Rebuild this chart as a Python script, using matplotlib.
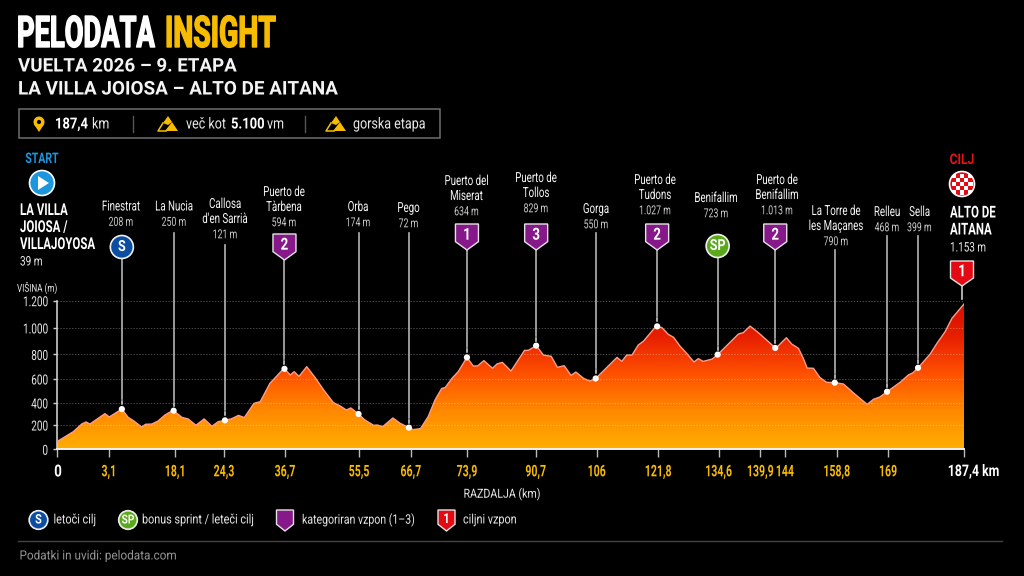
import numpy as np
import matplotlib
matplotlib.use('Agg')
import matplotlib.pyplot as plt
import matplotlib.patheffects as pe
from matplotlib.colors import LinearSegmentedColormap
from matplotlib.patches import Circle, Polygon, Rectangle
from matplotlib.transforms import Affine2D, Bbox

plt.rcParams['font.family'] = ['Roboto', 'DejaVu Sans']

# profile (position along the drawn axis, height on a 0-1200 axis)
dist = [0, 3.4, 5.1, 6.0, 6.8, 8.2, 9.9, 10.8, 13.4, 14.7, 15.8, 17.5, 18.3, 19.6, 20.9, 22.3, 24.0, 25.8,
        27.1, 28.7, 30.4, 32.0, 33.3, 34.7, 36.1, 37.5, 38.7, 40.7, 42.0, 44.0, 46.9, 48.2, 49.0, 50.0,
        51.6, 53.3, 55.1, 57.1, 58.5, 59.8, 60.7, 62.3, 63.6, 65.4, 66.2, 67.3, 69.4, 70.9, 72.7, 73.6,
        75.1, 76.7, 78.1, 79.5, 80.2, 81.6, 82.9, 84.7, 86.0, 86.9, 88.2, 90.0, 90.9, 92.0, 93.8, 96.6,
        97.4, 99.0, 100.5, 102.1, 103.4, 104.8, 106.2, 107.2, 108.8, 110.1, 111.2, 115.7, 116.7, 117.7,
        118.8, 120.1, 121.2, 123.8, 125.0, 126.3, 127.4, 128.7, 130.1, 131.6, 132.5, 133.5, 135.4, 136.4,
        140.8, 141.8, 143.2, 144.9, 147.0, 148.5, 150.7, 151.8, 153.2, 154.2, 155.0, 156.3, 157.6, 159.0,
        160.8, 162.5, 164.9, 167.4, 168.7, 170.0, 171.6, 174.2, 175.9, 176.9, 178.0, 180.4, 181.8, 183.5,
        184.9, 187.4]
height = [62, 143, 204, 221, 204, 242, 288, 261, 325, 258, 231, 180, 202, 204, 229, 277, 315, 258,
          245, 194, 245, 186, 223, 234, 247, 274, 256, 371, 385, 533, 654, 600, 627, 589,
          667, 581, 479, 377, 350, 317, 334, 285, 237, 194, 196, 183, 253, 210, 175, 159,
          167, 264, 398, 492, 498, 573, 627, 742, 673, 673, 716, 654, 689, 702, 632, 799,
          799, 837, 761, 751, 662, 675, 597, 624, 573, 551, 568, 742, 710, 761,
          761, 842, 874, 995, 982, 928, 904, 834, 775, 705, 732, 710, 729, 761,
          931, 942, 995, 942, 869, 815, 901, 850, 815, 734, 656, 654, 581, 541,
          538, 527, 444, 363, 404, 422, 468, 541, 600, 619, 662, 769, 855, 950,
          1057, 1173]

y_tick_pos = [0, 196, 374, 568, 766, 980, 1200]
y_tick_labels = ['0', '200', '400', '600', '800', '1.000', '1.200']
x_tick_pos = [0, 10.7, 24.4, 34.5, 47.1, 62.4, 73.1, 84.7, 98.9, 111.5, 124.2, 136.7, 145.3, 150.4, 161.1, 171.7, 187.4]
x_tick_labels = ['', '3,1', '18,1', '24,3', '36,7', '55,5', '66,7', '73,9', '90,7', '106', '121,8',
                 '134,6', '139,9', '144', '158,8', '169', '']

place_names = ['Finestrat', 'La Nucia', "Callosa\nd'en Sarrià", 'Puerto de\nTàrbena', 'Orba', 'Pego',
               'Puerto del\nMiserat', 'Puerto de\nTollos', 'Gorga', 'Puerto de\nTudons', 'Benifallim',
               'Puerto de\nBenifallim', 'La Torre de\nles Maçanes', 'Relleu', 'Sella']
place_alts = ['208 m', '250 m', '121 m', '594 m', '174 m', '72 m', '634 m', '829 m', '550 m',
              '1.027 m', '723 m', '1.013 m', '790 m', '468 m', '399 m']
place_dist = [13.4, 24.1, 34.7, 47.0, 62.3, 72.7, 84.7, 99.0, 111.3, 124.0, 136.5, 148.4, 160.7, 171.5, 177.9]
place_badge = ['S', '', '', '2', '', '', '1', '3', '', '2', 'SP', '2', '', '', '']

# layout, in picture pixels
label_x = [121, 174, 225, 284, 358, 408.5, 466.5, 536, 596, 655, 716, 777, 836, 887, 919.5]
label_y = [206.5, 206.5, 204, 192, 207, 208, 181, 178, 209, 180, 198, 180, 211, 212, 212]
stem_top = [258, 233, 245, 260, 233, 233, 250, 250, 233, 250, 258, 250, 250, 236, 236]
badge_y = [247, 0, 0, 247, 0, 0, 237, 237, 0, 237, 246, 237, 0, 0, 0]

BG = '#000000'
YELLOW = '#F7BC00'
PURPLE = '#86188A'
RED = '#E30A13'
BLUE = '#0B4DA2'
GREEN = '#5BA81B'
SKY = '#1C96DC'
W, H = 1024, 576


class Squeeze(pe.AbstractPathEffect):
    # the reference font is condensed and none is installed, so narrow the glyphs around x0
    def __init__(self, sx, x0, grow=0):
        super().__init__()
        self.sx, self.x0, self.grow = sx, x0, grow

    def draw_path(self, renderer, gc, tpath, affine, rgbFace=None):
        aff = affine + Affine2D().translate(-self.x0, 0).scale(self.sx, 1).translate(self.x0, 0)
        gc2 = renderer.new_gc()
        gc2.copy_properties(gc)
        if self.grow:
            gc2.set_linewidth(self.grow)
            gc2.set_foreground(rgbFace)
        renderer.draw_path(gc2, tpath, aff, rgbFace)
        gc2.restore()


def narrow(t, sx, x0, grow=0):
    t.set_path_effects([Squeeze(sx, x0, grow)])
    full_extent = t.get_window_extent

    # report the box that is really drawn
    def extent(renderer=None, dpi=None):
        b = full_extent(renderer, dpi)
        return Bbox([[x0 + (b.x0 - x0) * sx, b.y0], [x0 + (b.x1 - x0) * sx, b.y1]])

    t.get_window_extent = extent


fig = plt.figure(figsize=(W / 100, H / 100), dpi=100, facecolor=BG)
ax = fig.add_axes([57 / W, 1 - 449.3 / H, 907 / W, 148.6 / H], facecolor=BG)
ov = fig.add_axes([0, 0, 1, 1], facecolor='none')
ov.set_xlim(0, W)
ov.set_ylim(H, 0)
ov.axis('off')


def txt(x, y, s, size, color='#E8E8E8', sx=0.8, weight='normal', ha='left', grow=0, va='center', z=7):
    t = ov.text(x, y, s, color=color, fontsize=size, fontweight=weight, ha=ha, va=va, zorder=z)
    narrow(t, sx, x, grow)
    return t


# gradient fill clipped to the profile
cmap = LinearSegmentedColormap.from_list('climb', [(0, '#FFAE00'), (0.25, '#FF8A00'), (0.5, '#FF5200'),
                                                   (0.75, '#E82000'), (1, '#D40C00')])
img = ax.imshow(np.linspace(1, 0, 256).reshape(-1, 1), cmap=cmap, aspect='auto', extent=(0, 187.4, 0, 1200), zorder=2)
verts = list(zip(dist, height)) + [(187.4, 0), (0, 0)]
clip = Polygon(verts, closed=True, transform=ax.transData, fc='none', ec='none')
ax.add_patch(clip)
img.set_clip_path(clip)
ax.plot(dist, height, color='#FF9C88', lw=1, zorder=4, solid_joinstyle='round')

ax.set_xlim(0, 187.4)
ax.set_ylim(0, 1200)
for yp in y_tick_pos[1:]:
    ax.axhline(yp, color='#FFFFFF', alpha=0.28, lw=0.7, ls=(0, (1.5, 1.5)), zorder=3)
ax.set_xticks(x_tick_pos, x_tick_labels)
ax.set_yticks(y_tick_pos, y_tick_labels)
ax.tick_params(axis='x', length=5.8, width=1, color='#BBBBBB', labelcolor=YELLOW, labelsize=11.5, pad=5)
ax.tick_params(axis='y', length=2.9, width=1, color='#CCCCCC', labelcolor='#E8E8E8', labelsize=10, pad=3.6)
for pos, lab in zip(x_tick_pos, ax.get_xticklabels()):
    lab.set_fontweight('bold')
    narrow(lab, 0.66, ax.transData.transform((pos, 0))[0])
for lab in ax.get_yticklabels():
    narrow(lab, 0.72, 48)
for s in ('top', 'right'):
    ax.spines[s].set_visible(False)
ax.spines['left'].set_color('#CCCCCC')
ax.spines['bottom'].set_color('#F0F0F0')
ax.spines['left'].set_linewidth(1.2)
ax.spines['bottom'].set_linewidth(1.4)


def shield(cx, top, w, h, fc, label='', size=12):
    hw = w / 2
    pts = [(cx - hw, top), (cx + hw, top), (cx + hw, top + h * 0.68), (cx, top + h), (cx - hw, top + h * 0.68)]
    ov.add_patch(Polygon(pts, closed=True, fc=fc, ec='#E4E4E4', lw=1, zorder=6))
    if label:
        txt(cx, top + h * 0.43, label, size, 'white', 0.8, 'bold', 'center')


def disc(cx, cy, r, fc, label, size=11):
    ov.add_patch(Circle((cx, cy), r, fc=fc, ec='#EFEFEF', lw=1.2, zorder=6))
    txt(cx, cy, label, size, 'white', 0.82, 'bold', 'center')


# climbs and towns
for i, name in enumerate(place_names):
    h_here = np.interp(place_dist[i], dist, height)
    px, py = ax.transData.transform((place_dist[i], h_here))
    py = H - py
    ov.plot([px, px], [stem_top[i], py - 10], color='#B4B4B4', lw=1.2, zorder=5)
    ov.plot([px, px], [py - 8, py - 5], color='#DDDDDD', lw=1.1, zorder=5)
    ov.add_patch(Circle((px, py), 3.1, fc='white', ec='none', zorder=8))
    lines = name.split('\n')
    for j, ln in enumerate(lines):
        txt(label_x[i], label_y[i] + j * 15, ln, 10, '#F6F6F6', 0.7, ha='center')
    txt(label_x[i], label_y[i] + len(lines) * 15 + 0.8, place_alts[i], 9, '#CCCCCC', 0.7, ha='center')
    b = place_badge[i]
    if b in ('S', 'SP'):
        disc(px, badge_y[i], 11.5, BLUE if b == 'S' else GREEN, b)
    elif b:
        shield(px, badge_y[i] - 13, 23, 26, PURPLE, b)

# header
txt(17, 47, 'PELODATA', 31.4, 'white', 0.625, 'bold', grow=1.0, va='baseline')
txt(165, 47, 'INSIGHT', 31.4, YELLOW, 0.65, 'bold', grow=1.0, va='baseline')
txt(18, 66.5, 'VUELTA 2026 – 9. ETAPA', 13.5, '#F4F4F4', 1.0, 'bold')
txt(18, 89.5, 'LA VILLA JOIOSA – ALTO DE AITANA', 13.6, '#F4F4F4', 1.0, 'bold')

# info box
ov.add_patch(Rectangle((18.5, 108.5), 421, 29.5, fc='none', ec='#6E6E6E', lw=1.1))
ov.plot([133, 133], [116, 132], color='#555555', lw=1)
ov.plot([305, 305], [116, 132], color='#555555', lw=1)


def mountains(x, y):
    ov.add_patch(Polygon([(x + 7, y), (x + 14, y - 9), (x + 20, y)], closed=True, fc=YELLOW, ec='none'))
    ov.add_patch(Polygon([(x + 5, y - 8), (x + 10, y - 15), (x + 14, y - 9), (x + 10, y - 6)], closed=True, fc=YELLOW, ec='none'))
    ov.plot([x + 5, x, x + 8], [y - 8, y, y], color=YELLOW, lw=1.1)


ov.add_patch(Circle((39, 122), 5.5, fc=YELLOW, ec='none'))
ov.add_patch(Polygon([(33.8, 124), (44.2, 124), (39, 132)], closed=True, fc=YELLOW, ec='none'))
ov.add_patch(Circle((39, 122), 2.1, fc=BG, ec='none', zorder=5))
txt(55, 124.5, '187,4', 11, 'white', 0.85, 'bold')
txt(92, 124.5, 'km', 11, '#E8E8E8', 0.82)
mountains(158, 131)
txt(186, 124.5, 'več kot', 11, '#E8E8E8', 0.82)
txt(231, 124.5, '5.100', 11, 'white', 0.85, 'bold')
txt(267, 124.5, 'vm', 11, '#E8E8E8', 0.82)
mountains(326, 131)
txt(353, 124.5, 'gorska etapa', 11, '#E8E8E8', 0.82)

# start
txt(42, 159, 'START', 10.5, SKY, 0.72, 'bold', 'center')
ov.add_patch(Circle((42, 183), 12.5, fc=SKY, ec='white', lw=1.2, zorder=6))
ov.add_patch(Polygon([(38, 176), (38, 190), (49, 183)], closed=True, fc='white', ec='none', zorder=7))
for y, t in zip((210.5, 227.5, 244.5), ('LA VILLA', 'JOIOSA /', 'VILLAJOYOSA')):
    txt(20, y, t, 11.8, 'white', 0.7, 'bold')
txt(20, 262, '39 m', 9.5, '#E8E8E8', 0.76)

# finish
txt(962, 160, 'CILJ', 10.5, '#E8111A', 0.83, 'bold', 'center')
fin = Circle((962, 184), 12.5, fc=RED, ec='white', lw=1.2, zorder=6)
ov.add_patch(fin)
for r in range(-2, 3):
    for c in range(-2, 3):
        if (r + c) % 2 == 0:
            sq = Rectangle((962 + c * 4.2 - 2.1, 184 + r * 4.2 - 2.1), 4.2, 4.2, fc='white', ec='none', zorder=7)
            ov.add_patch(sq)
            sq.set_clip_path(fin)
txt(950, 213, 'ALTO DE', 11.8, 'white', 0.7, 'bold')
txt(950, 230, 'AITANA', 11.8, 'white', 0.7, 'bold')
txt(950, 248, '1.153 m', 9.5, '#E8E8E8', 0.75)
shield(962, 261, 23, 25, RED, '1')
ov.plot([962, 962], [287, 299], color='#CCCCCC', lw=1.2)

# axis texts
txt(17, 288, 'VIŠINA (m)', 7.8, '#E8E8E8', 0.75)
txt(58, 472, '0', 12, 'white', 0.8, 'bold', 'center')
txt(973.5, 471.5, '187,4 km', 11.5, 'white', 0.77, 'bold', 'center')
txt(502, 494, 'RAZDALJA (km)', 9, '#E8E8E8', 0.85, ha='center')

# legend
disc(38.5, 520, 9.3, BLUE, 'S', 9.5)
txt(53.5, 520, 'letoči cilj', 9.5, '#E8E8E8', 0.82)
disc(128, 520, 9.3, GREEN, 'SP', 9)
txt(142, 520, 'bonus sprint / leteči cilj', 9.5, '#E8E8E8', 0.82)
shield(285, 510, 17, 21, PURPLE)
txt(302, 520, 'kategoriran vzpon (1–3)', 9.5, '#E8E8E8', 0.8)
shield(446.5, 510, 17, 21, RED, '1', 10)
txt(463, 520, 'ciljni vzpon', 9.5, '#E8E8E8', 0.82)

# footer
ov.plot([18, 1002], [541, 541], color='#444444', lw=1)
txt(19.5, 556, 'Podatki in uvidi: pelodata.com', 9.2, '#949494', 0.92)

fig.savefig('out.png', dpi=100, facecolor=BG)
